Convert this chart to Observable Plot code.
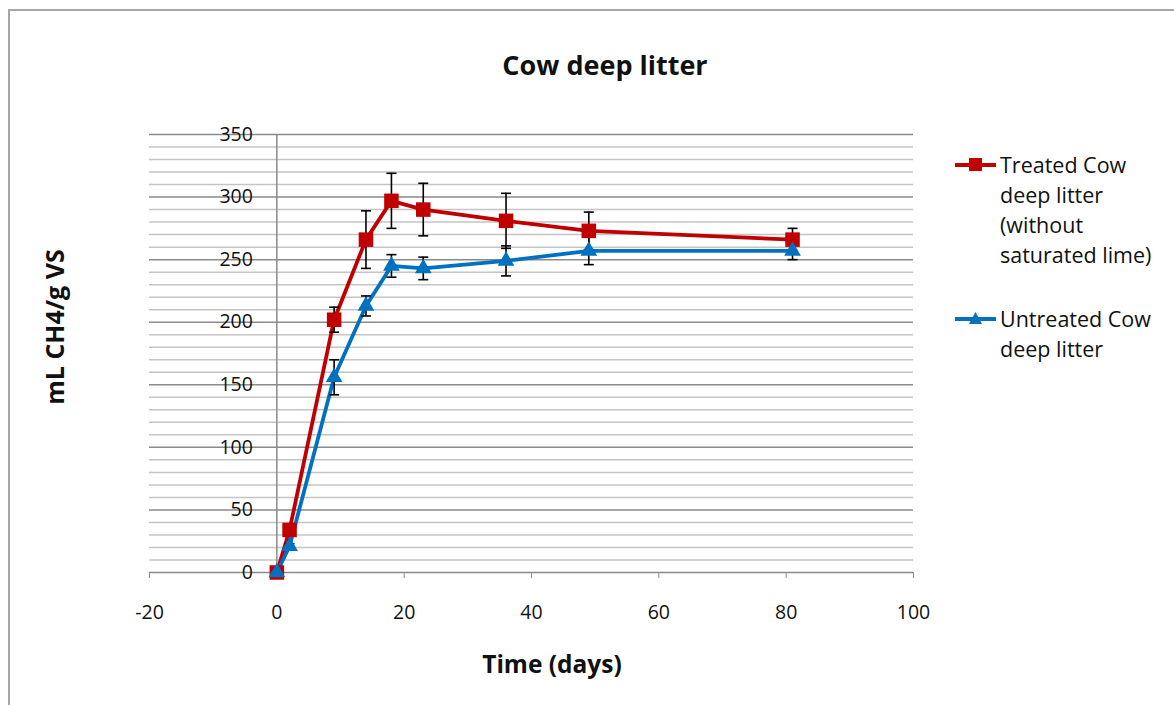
<!DOCTYPE html>
<html>
<head>
<meta charset="utf-8">
<script src="https://cdn.jsdelivr.net/npm/d3@7"></script>
<script src="https://cdn.jsdelivr.net/npm/@observablehq/plot@0.6"></script>
<style>
  html, body { margin: 0; padding: 0; background: #fff; overflow: hidden; }
  #wrap { position: relative; width: 1174px; height: 705px; font-family: "Open Sans", sans-serif; color: #111; }
  #frame { position: absolute; left: 8px; top: 9px; width: 1200px; height: 720px; border: 2px solid #a6a6a6; box-sizing: border-box; }
  #chart { position: absolute; left: 0; top: 0; }
  .title { position: absolute; font-weight: bold; white-space: nowrap; }
  #legend { position: absolute; left: 955px; top: 150px; font-size: 21.5px; line-height: 30px; }
  .item { position: relative; padding-left: 45px; margin-bottom: 34px; white-space: nowrap; }
  .item svg { position: absolute; left: 0; top: 0; }
</style>
</head>
<body>
<div id="wrap">
  <div id="frame"></div>
  <div id="chart"></div>
  <div class="title" style="left:605px;top:64px;font-size:27px;transform:translate(-50%,-50%);">Cow deep litter</div>
  <div class="title" style="left:54px;top:327px;font-size:25px;transform:translate(-50%,-50%) rotate(-90deg);">mL CH4/g VS</div>
  <div class="title" style="left:552px;top:663px;font-size:24.5px;transform:translate(-50%,-50%);">Time (days)</div>
  <div id="legend"></div>
</div>
<script>
const days = [0, 2, 9, 14, 18, 23, 36, 49, 81];
const treated = [0, 34, 202, 266, 297, 290, 281, 273, 266];
const treatedErr = [0, 3, 10, 23, 22, 21, 22, 15, 9];
const untreated = [0, 21, 156, 213, 245, 243, 249, 257, 257];
const untreatedErr = [0, 2, 14, 8, 9, 9, 12, 11, 7];
const seriesNames = ["Treated Cow deep litter (without saturated lime)", "Untreated Cow deep litter"];
const legendLines = [["Treated Cow", "deep litter", "(without", "saturated lime)"], ["Untreated Cow", "deep litter"]];
const colors = ["#C00000", "#0070C0"];
const xTicks = [-20, 0, 20, 40, 60, 80, 100];
const yMajor = [0, 50, 100, 150, 200, 250, 300, 350];
const yMinor = d3.range(0, 351, 10).filter(v => v % 50 !== 0);

const rows = [];
days.forEach((d, i) => {
  rows.push({series: seriesNames[0], day: d, v: treated[i], e: treatedErr[i]});
  rows.push({series: seriesNames[1], day: d, v: untreated[i], e: untreatedErr[i]});
});
const tRows = rows.filter(r => r.series === seriesNames[0]);
const uRows = rows.filter(r => r.series === seriesNames[1]);

const cap = { draw(ctx) { ctx.moveTo(-5, 0); ctx.lineTo(5, 0); } };

const plot = Plot.plot({
  width: 1174,
  height: 705,
  marginLeft: 149,
  marginRight: 261,
  marginTop: 134,
  marginBottom: 133,
  style: { fontFamily: "Open Sans, sans-serif", fontSize: "19.5px", color: "#111", background: "transparent", overflow: "visible" },
  x: { domain: [-20, 100] },
  y: { domain: [0, 350], axis: null },
  marks: [
    Plot.ruleY(yMinor, { stroke: "#c4c4c4", strokeWidth: 1.5 }),
    Plot.ruleY(yMajor, { stroke: "#8a8a8a", strokeWidth: 1.5 }),
    Plot.ruleX([0], { y1: 0, y2: 350, stroke: "#8a8a8a", strokeWidth: 1.5 }),
    Plot.axisX({ ticks: xTicks, tickSize: 6, tickPadding: 27, stroke: "#8a8a8a", fill: "#111", fontSize: 19.5, label: null, tickFormat: d => String(d) }),
    Plot.text(yMajor, { x: () => 0, y: d => d, text: d => String(d), textAnchor: "end", dx: -24, fontSize: 19.5, fill: "#111" }),
    Plot.line(tRows, { x: "day", y: "v", stroke: colors[0], strokeWidth: 3.8 }),
    Plot.line(uRows, { x: "day", y: "v", stroke: colors[1], strokeWidth: 3.8 }),
    Plot.ruleX(rows.filter(r => r.e > 0), { x: "day", y1: r => r.v - r.e, y2: r => r.v + r.e, stroke: "#000", strokeWidth: 1.6 }),
    Plot.dot(rows.filter(r => r.e > 0), { x: "day", y: r => r.v + r.e, symbol: cap, r: 1, stroke: "#000", strokeWidth: 1.6, fill: "none" }),
    Plot.dot(rows.filter(r => r.e > 0), { x: "day", y: r => r.v - r.e, symbol: cap, r: 1, stroke: "#000", strokeWidth: 1.6, fill: "none" }),
    Plot.dot(tRows, { x: "day", y: "v", symbol: "square", r: 8.2, fill: colors[0], stroke: "none" }),
    Plot.dot(uRows, { x: "day", y: "v", symbol: "triangle", r: 6.2, fill: colors[1], stroke: "none" })
  ]
});
document.getElementById("chart").appendChild(plot);

const legend = document.getElementById("legend");
legendLines.forEach((lines, i) => {
  const item = document.createElement("div");
  item.className = "item";
  const marker = i === 0
    ? `<rect x="14" y="8" width="13" height="13" fill="${colors[0]}"/>`
    : `<path d="M20.5,8 L27,20 L14,20 Z" fill="${colors[1]}"/>`;
  item.innerHTML = `<svg width="42" height="30"><line x1="0" x2="41" y1="15" y2="15" stroke="${colors[i]}" stroke-width="3.8"/>${marker}</svg>` +
    lines.map(l => `<div>${l}</div>`).join("");
  legend.appendChild(item);
});
</script>
</body>
</html>
